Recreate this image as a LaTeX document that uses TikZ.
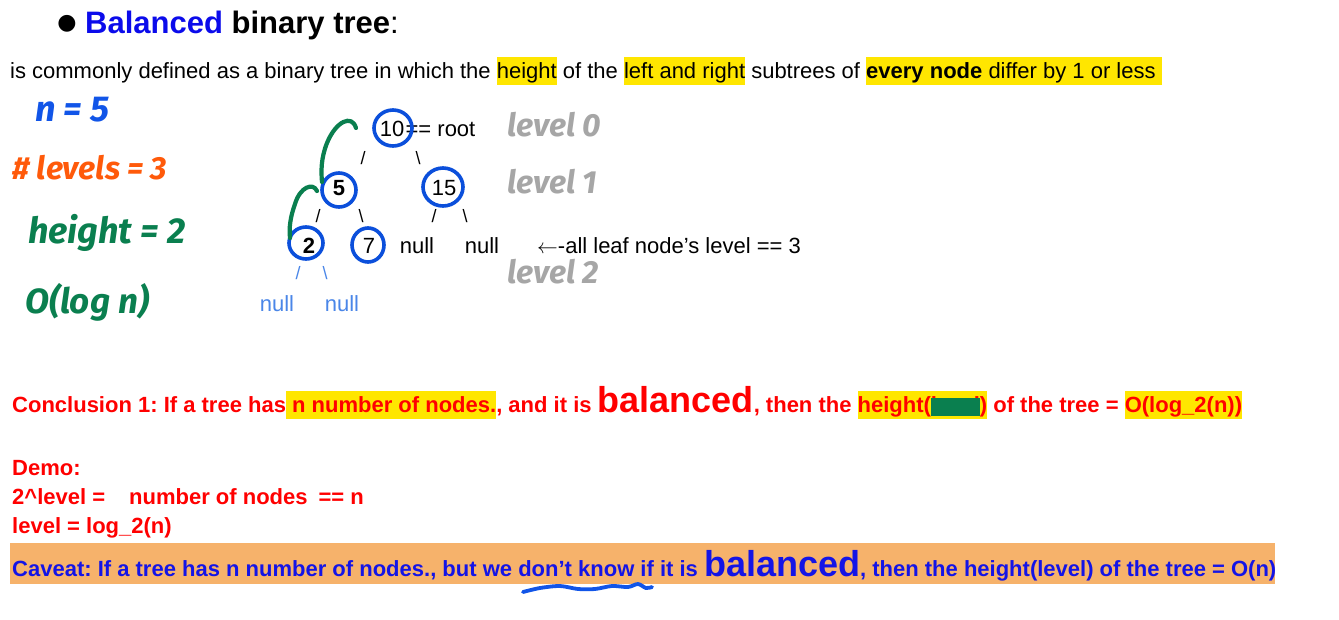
\documentclass[tikz,border=0pt]{standalone}
\usepackage{fontspec}
\setmainfont{Liberation Sans}
\newfontfamily\handfont{Fira Sans}
\newfontfamily\symfont{DejaVu Sans}
\usetikzlibrary{positioning,calc}
\definecolor{titleblue}{HTML}{0B0BEB}
\definecolor{hlyellow}{HTML}{FFE600}
\definecolor{bandorange}{HTML}{F6B26B}
\definecolor{caveatblue}{HTML}{1414E6}
\definecolor{ringblue}{HTML}{0B4FDB}
\definecolor{handblue}{HTML}{1155E8}
\definecolor{handorange}{HTML}{FF5A0A}
\definecolor{handgreen}{HTML}{0A7F4F}
\definecolor{handgrey}{HTML}{A6A6A6}
\definecolor{nullblue}{HTML}{4A86E8}
\newsavebox\hlbox
\newsavebox\blotbox
\newcommand{\hlmark}[1]{\sbox\hlbox{#1}\rlap{\textcolor{hlyellow}{\rule[-0.3em]{\wd\hlbox}{1.25em}}}\usebox\hlbox}
\newcommand{\blotmark}[1]{\sbox\blotbox{#1}\usebox\blotbox\llap{\textcolor{handgreen}{\rule[-0.2em]{\wd\blotbox}{0.85em}}}}

\tikzset{
  bodytext/.style={anchor=base west, inner sep=0pt, font=\fontsize{22}{26}\selectfont},
  redtext/.style={anchor=base west, inner sep=0pt, text=red, font=\bfseries\fontsize{22}{26}\selectfont},
  treekey/.style={inner sep=0pt, font=\fontsize{22}{26}\selectfont},
  branch/.style={inner sep=0pt, font=\fontsize{18}{20}\selectfont},
  ring/.style={draw=ringblue, line width=3.6pt},
  handnote/.style={anchor=west, inner sep=0pt, font=\handfont\itshape\bfseries\fontsize{32}{34}\selectfont},
  levelnote/.style={handnote, text=handgrey},
  hook/.style={draw=handgreen, line width=4.2pt, line cap=round}
}
\newcommand{\bigword}[1]{{\fontsize{36}{40}\selectfont #1}}

\begin{document}
\frenchspacing
\begin{tikzpicture}[x=1pt, y=-1pt]
\useasboundingbox (0,0) rectangle (1339,619);
\fill[white] (0,0) rectangle (1339,619);

% heading and definition
\node[inner sep=0pt, font=\symfont\fontsize{22}{24}\selectfont] (dot) at (67,24) {●};
\node[anchor=base west, inner sep=0pt, font=\fontsize{31}{34}\selectfont] (title) at (85,33)
  {\textbf{\textcolor{titleblue}{Balanced} binary tree}:};
\node[bodytext] (definition) at (10,78)
  {is commonly defined as a binary tree in which the \hlmark{height} of the \hlmark{left and right} subtrees of \hlmark{\textbf{every node} differ by 1 or less\hspace{6pt}}};

% handwritten notes
\node[handnote, text=handblue, font=\handfont\itshape\bfseries\fontsize{36}{38}\selectfont] (nnote) at (35,110) {n = 5};
\node[handnote, text=handorange] (levelsnote) at (12,168) {\# levels = 3};
\node[handnote, text=handgreen, font=\handfont\itshape\bfseries\fontsize{36}{38}\selectfont] (heightnote) at (28,233) {height = 2};
\node[handnote, text=handgreen, font=\handfont\itshape\bfseries\fontsize{35}{38}\selectfont] (bignote) at (25,302) {O(log n)};

% the tree
\node[treekey] (k10) at (392,129) {10};
\node[treekey, anchor=base west] (rootnote) at ([xshift=1pt]k10.base east) {== root};
\node[branch] (b10l) at (363,158) {/};
\node[branch] (b10r) at (418,158) {\textbackslash};
\node[treekey] (k5) at (339,188) {\textbf{5}};
\node[treekey] (k15) at (444,188) {15};
\node[branch] (b5l) at (318,216) {/};
\node[branch] (b5r) at (361,216) {\textbackslash};
\node[branch] (b15l) at (434,216) {/};
\node[branch] (b15r) at (465,216) {\textbackslash};
\node[treekey] (k2) at (309,246) {\textbf{2}};
\node[treekey] (k7) at (369,246) {7};
\node[treekey] (n15l) at (417,246) {null};
\node[treekey] (n15r) at (482,246) {null};
\node[branch, text=nullblue] (b2l) at (298,273) {/};
\node[branch, text=nullblue] (b2r) at (325,273) {\textbackslash};
\node[treekey, text=nullblue] (n2l) at (277,304) {null};
\node[treekey, text=nullblue] (n2r) at (342,304) {null};
\node[treekey, anchor=west] (leafnote) at (537,246) {$\leftarrow$-all leaf node’s level == 3};

\draw[ring] ($(k10)+(1,-1)$) circle [x radius=19pt, y radius=18pt];
\draw[ring] ($(k5)+(0,2)$) circle [radius=17pt];
\draw[ring] ($(k15)+(-1,-1)$) circle [x radius=20pt, y radius=19pt];
\draw[ring] ($(k2)+(-3,-3)$) circle [x radius=17pt, y radius=16pt];
\draw[ring] ($(k7)+(-1,-1)$) circle [x radius=16pt, y radius=17pt];

\node[levelnote] (lv0) at (507,125) {level 0};
\node[levelnote] (lv1) at (507,182) {level 1};
\node[levelnote] (lv2) at (507,272) {level 2};

\draw[hook] (356,128) .. controls (352,114) and (336,121) .. (327,143) .. controls (321,158) and (321,171) .. (322,182);
\draw[hook] (317,191) .. controls (313,182) and (300,187) .. (295,204) .. controls (290,218) and (289,228) .. (290,238);

% conclusion and demo
\node[redtext] (conclusion) at (12,412)
  {Conclusion 1: If a tree has\hlmark{ n number of nodes.}, and it is \bigword{balanced}, then the \hlmark{height(\blotmark{level})} of the tree = \hlmark{O(log\_2(n))}};
\node[redtext] (demo) at (12,475) {Demo:};
\node[redtext] (demoa) at (12,504) {2\textasciicircum level =\hspace{24pt}number of nodes\hspace{11pt}== n};
\node[redtext] (demob) at (12,533) {level = log\_2(n)};

% caveat
\fill[bandorange] (10,543) rectangle (1275,584);
\node[redtext, text=caveatblue] (caveat) at (12,576)
  {Caveat: If a tree has n number of nodes., but we don’t know if it is \bigword{balanced}, then the height(level) of the tree = O(n)};
\draw[draw=handblue, line width=3.8pt, line cap=round] plot[smooth] coordinates
  {(523,592) (540,588) (560,586) (578,589) (595,589) (612,586) (628,587) (638,584) (646,588) (652,587)};
\end{tikzpicture}
\end{document}
